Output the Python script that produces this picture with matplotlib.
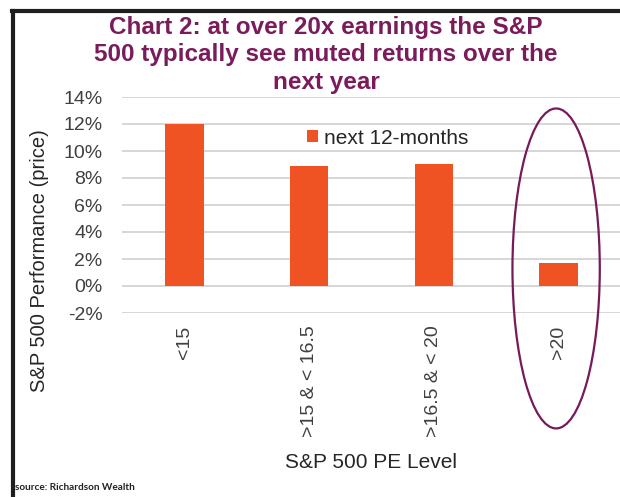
import numpy as np
import matplotlib
matplotlib.use("Agg")
import matplotlib.pyplot as plt
from matplotlib.patches import Ellipse
from matplotlib.lines import Line2D

# data
categories = ["<15", ">15 & < 16.5", ">16.5 & < 20", ">20"]
returns = [12.0, 8.9, 9.05, 1.7]
series_name = "next 12-months"
yticks = [-2, 0, 2, 4, 6, 8, 10, 12, 14]

plt.rcParams['font.family'] = ['Liberation Sans', 'DejaVu Sans']

W, H = 620, 497
fig = plt.figure(figsize=(W / 100, H / 100), dpi=100)
fig.patch.set_facecolor('white')

# axes placed in pixel terms
left, right, top, bottom = 122, 621, 97, 313
ax = fig.add_axes([left / W, 1 - bottom / H, (right - left) / W, (bottom - top) / H])

x = np.arange(len(categories))
bars = ax.bar(x, returns, width=0.31, color='#EF5323', label=series_name, zorder=3)

ax.set_xlim(-0.5, len(categories) - 0.5)
ax.set_ylim(-2, 14)
ax.set_yticks(yticks)
ax.set_yticklabels([f"{v}%" for v in yticks])
ax.set_xticks(x)
ax.set_xticklabels(categories, rotation=90)

ax.grid(True, axis='y', color='#d6d6d6', linewidth=1.4, zorder=0)
ax.tick_params(axis='both', length=0, labelsize=14, labelcolor='#404040')
ax.tick_params(axis='y', pad=14)
ax.tick_params(axis='x', pad=9)
for s in ax.spines.values():
    s.set_visible(False)

# axis titles
fig.text(40 / W, 1 - 261 / H, "S&P 500 Performance (price)", rotation=90,
         ha='center', va='center', fontsize=14.5, color='#262626')
fig.text(371 / W, 1 - 463 / H, "S&P 500 PE Level", ha='center', va='center',
         fontsize=15, color='#262626')

# title
fig.text(326 / W, 1 - 55 / H,
         "Chart 2: at over 20x earnings the S&P\n500 typically see muted returns over the\nnext year",
         ha='center', va='center', fontsize=17.5, fontweight='bold', color='#7A1C5C',
         linespacing=1.24)

# legend
ax.legend(loc='center left', bbox_to_anchor=(307 / W, 1 - 138 / H),
          bbox_transform=fig.transFigure, frameon=False, fontsize=15,
          handlelength=0.55, handleheight=0.55, handletextpad=0.25,
          borderpad=0, borderaxespad=0, labelcolor='#262626')

# highlight ellipse around the last category
ell = Ellipse((len(categories) - 1 - 0.02, 1.3), width=0.70, height=23.7,
              fill=False, edgecolor='#761A5A', linewidth=1.6, clip_on=False, zorder=4)
ax.add_patch(ell)

# source note
fig.text(15 / W, 1 - 488 / H, "source: Richardson Wealth", ha='left', va='center',
         fontsize=7.2, fontweight='bold', color='#222222', family=['Lato', 'DejaVu Sans'])

# dark frame from the screenshot
fig.add_artist(Line2D([12 / W, 1], [1 - 11 / H, 1 - 11 / H], color='#1e1e1e',
                      linewidth=3, transform=fig.transFigure))
fig.add_artist(Line2D([13 / W, 13 / W], [0, 1 - 11 / H], color='#1e1e1e',
                      linewidth=3, transform=fig.transFigure))

fig.savefig("out.png", dpi=100, facecolor='white')
